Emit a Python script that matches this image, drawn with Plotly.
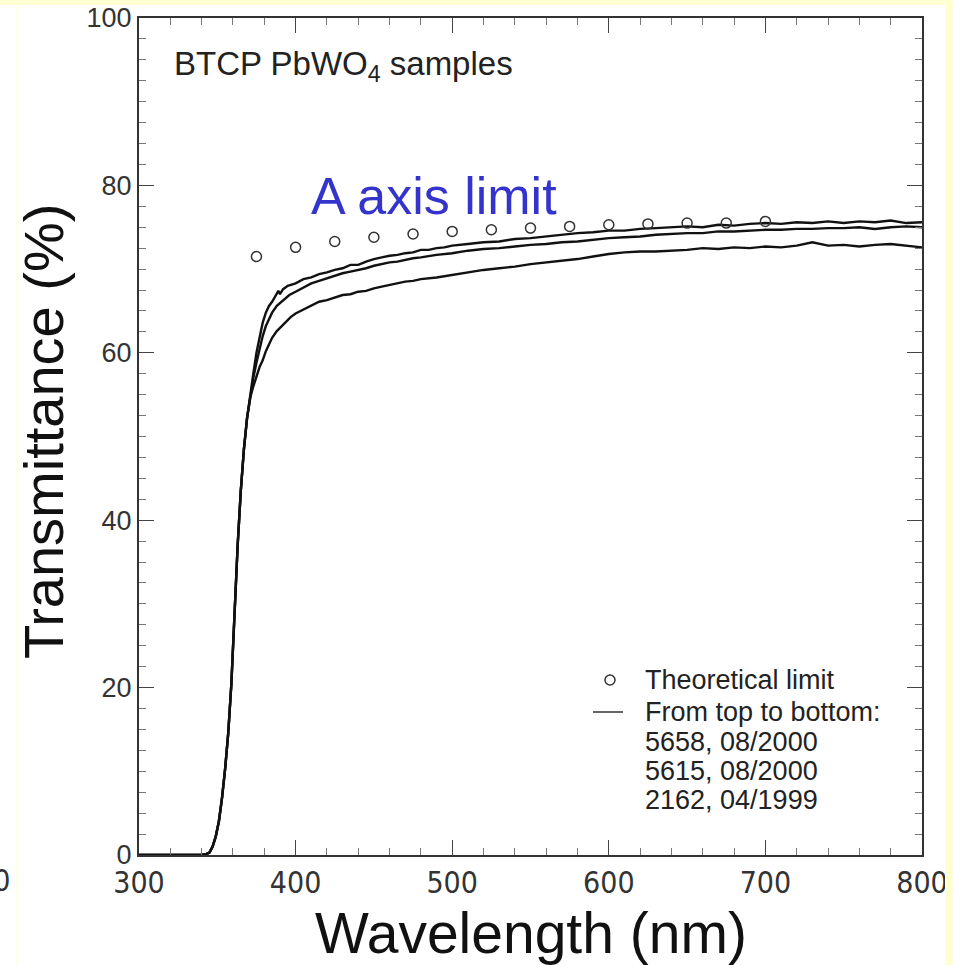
import plotly.graph_objects as go

# ---------------- data ----------------
rise_wl = [300, 320, 340, 343, 345, 347, 349, 351, 353, 355, 357, 359, 361, 363, 365, 367, 369, 371]
rise_t = [0, 0, 0, 0.1, 0.3, 1.0, 2.2, 4.0, 6.8, 10.3, 14.6, 20.5, 29.0, 37.0, 43.5, 48.5, 52.2, 54.6]

top_wl = [373, 375, 377, 379, 381, 383, 385, 387, 389, 390, 392, 395, 400, 405, 410, 415, 420, 425, 430,
          435, 440, 445, 450, 455, 460, 465, 470, 475, 480, 485, 490, 495, 500, 510, 520, 530, 540, 550,
          560, 570, 580, 590, 600, 610, 620, 630, 640, 650, 660, 670, 680, 690, 700, 710, 720, 730, 740,
          750, 760, 770, 780, 790, 800]
top_t = [57.5, 60.0, 62.0, 63.6, 64.8, 65.6, 66.1, 66.8, 67.4, 67.0, 67.6, 68.0, 68.3, 68.8, 69.0, 69.4,
         69.6, 69.9, 70.1, 70.5, 70.5, 70.9, 71.2, 71.4, 71.6, 71.7, 71.9, 72.0, 72.3, 72.3, 72.5, 72.6,
         72.8, 73.0, 73.2, 73.3, 73.6, 73.7, 73.9, 74.1, 74.3, 74.4, 74.6, 74.6, 74.8, 74.9, 75.0, 75.1,
         75.0, 75.3, 75.2, 75.4, 75.5, 75.4, 75.6, 75.5, 75.7, 75.5, 75.7, 75.6, 75.8, 75.5, 75.6]

mid_wl = [373, 375, 377, 379, 381, 383, 385, 388, 392, 396, 400, 405, 410, 415, 420, 425, 430, 435, 440,
          445, 450, 455, 460, 465, 470, 475, 480, 490, 500, 510, 520, 530, 540, 550, 560, 570, 580, 590,
          600, 610, 620, 630, 640, 650, 660, 670, 680, 690, 700, 710, 720, 730, 740, 750, 760, 770, 780,
          790, 800]
mid_t = [57.0, 58.8, 60.6, 62.0, 63.2, 64.1, 64.8, 65.6, 66.3, 66.9, 67.3, 67.8, 68.3, 68.6, 68.9, 69.2,
         69.5, 69.7, 69.9, 70.1, 70.4, 70.6, 70.8, 70.9, 71.1, 71.3, 71.4, 71.7, 71.9, 72.2, 72.4, 72.5,
         72.7, 72.9, 73.0, 73.2, 73.3, 73.5, 73.7, 73.8, 73.9, 74.1, 74.2, 74.3, 74.3, 74.5, 74.5, 74.6,
         74.7, 74.7, 74.8, 74.8, 74.9, 74.9, 75.0, 74.8, 75.0, 75.1, 75.0]

bot_wl = [373, 375, 377, 379, 381, 383, 385, 388, 391, 394, 397, 400, 405, 410, 415, 420, 425, 430, 435,
          440, 445, 450, 455, 460, 465, 470, 475, 480, 490, 500, 510, 520, 530, 540, 550, 560, 570, 580,
          590, 600, 610, 620, 630, 640, 650, 660, 670, 680, 690, 700, 710, 720, 730, 740, 750, 760, 770,
          780, 790, 800]
bot_t = [56.0, 57.2, 58.3, 59.1, 60.2, 61.0, 61.8, 62.6, 63.2, 63.8, 64.3, 64.7, 65.2, 65.7, 66.1, 66.3,
         66.6, 66.9, 67.0, 67.3, 67.4, 67.7, 67.9, 68.1, 68.3, 68.5, 68.6, 68.8, 69.0, 69.3, 69.6, 69.9,
         70.1, 70.3, 70.6, 70.8, 71.0, 71.2, 71.5, 71.8, 72.0, 72.1, 72.1, 72.2, 72.3, 72.5, 72.4, 72.6,
         72.5, 72.7, 72.6, 72.8, 73.2, 72.8, 72.9, 72.7, 72.9, 73.0, 72.8, 72.6]

theo_wl = [375, 400, 425, 450, 475, 500, 525, 550, 575, 600, 625, 650, 675, 700]
theo_t = [71.5, 72.6, 73.3, 73.8, 74.2, 74.5, 74.7, 74.9, 75.1, 75.3, 75.4, 75.5, 75.5, 75.7]

x_ticks = [300, 400, 500, 600, 700, 800]
y_ticks = [0, 20, 40, 60, 80, 100]
legend_lines = ["Theoretical limit", "From top to bottom:", "5658, 08/2000", "5615, 08/2000", "2162, 04/1999"]

# ---------------- figure ----------------
W, H = 953, 965
L, R, T, B = 139, 922, 18, 855
pw, ph = R - L, B - T


def px_x(p):
    return (p - L) / pw


def px_y(p):
    return (B - p) / ph


FONT = "Liberation Sans, Arial, Helvetica, sans-serif"
NARROW = "DejaVu Sans Condensed, Liberation Sans Narrow, Arial Narrow, sans-serif"
LINE_COL = "#111111"

fig = go.Figure()
for wl, t in [(top_wl, top_t), (mid_wl, mid_t), (bot_wl, bot_t)]:
    fig.add_trace(go.Scatter(x=rise_wl + wl, y=rise_t + t, mode="lines",
                             line=dict(color=LINE_COL, width=2.4), showlegend=False))
fig.add_trace(go.Scatter(x=theo_wl, y=theo_t, mode="markers",
                         marker=dict(symbol="circle-open", size=10, color="#333333",
                                     line=dict(width=1.5, color="#333333")),
                         showlegend=False))

axis_common = dict(showgrid=False, zeroline=False, showline=True, linecolor="#333333", linewidth=2,
                   mirror="ticks", ticks="inside", ticklen=15, tickwidth=1.2, tickcolor="#444444",
                   automargin=False, layer="above traces")

fig.update_xaxes(range=[300, 800], tickmode="array", tickvals=x_ticks, ticktext=[str(v) for v in x_ticks],
                 tickfont=dict(family=NARROW, size=30, color="#333333"),
                 minor=dict(tickmode="linear", dtick=20, tick0=300, ticks="inside", ticklen=7,
                            tickwidth=1, tickcolor="#777777"),
                 **axis_common)
fig.update_yaxes(range=[0, 100], tickmode="array", tickvals=y_ticks, ticktext=[str(v) for v in y_ticks],
                 tickfont=dict(family=FONT, size=27, color="#333333"),
                 minor=dict(tickmode="linear", dtick=2.5, tick0=0, ticks="inside", ticklen=7,
                            tickwidth=1, tickcolor="#777777"),
                 **axis_common)

ann = []
ann.append(dict(text="BTCP PbWO<sub>4</sub> samples", x=px_x(172), y=px_y(66), xref="paper", yref="paper",
                xanchor="left", yanchor="middle", showarrow=False,
                font=dict(family=FONT, size=33, color="#222222")))
ann.append(dict(text="A axis limit", x=px_x(434), y=px_y(196), xref="paper", yref="paper",
                xanchor="center", yanchor="middle", showarrow=False,
                font=dict(family=FONT, size=52, color="#3434CC")))
ann.append(dict(text="Wavelength (nm)", x=0.5, y=px_y(933), xref="paper", yref="paper",
                xanchor="center", yanchor="middle", showarrow=False,
                font=dict(family=FONT, size=57, color="#111111")))
ann.append(dict(text="Transmittance (%)", x=px_x(43), y=px_y(432), xref="paper", yref="paper",
                xanchor="center", yanchor="middle", showarrow=False, textangle=-90,
                font=dict(family=FONT, size=56, color="#111111")))
ann.append(dict(text="00", x=px_x(12), y=px_y(880), xref="paper", yref="paper",
                xanchor="right", yanchor="middle", showarrow=False,
                font=dict(family=NARROW, size=30, color="#333333")))
leg_y = [680, 712, 742, 771, 800]
for txt, yy in zip(legend_lines, leg_y):
    ann.append(dict(text=txt, x=px_x(643), y=px_y(yy), xref="paper", yref="paper",
                    xanchor="left", yanchor="middle", showarrow=False,
                    font=dict(family=FONT, size=27, color="#222222")))

shapes = [
    # legend symbols
    dict(type="circle", xref="paper", yref="paper", x0=px_x(605), x1=px_x(615), y0=px_y(685), y1=px_y(675),
         line=dict(color="#333333", width=1.5)),
    dict(type="line", xref="paper", yref="paper", x0=px_x(593), x1=px_x(623), y0=px_y(712), y1=px_y(712),
         line=dict(color="#333333", width=1.5)),
    # page border decoration
    dict(type="rect", xref="paper", yref="paper", x0=px_x(0), x1=px_x(W), y0=px_y(0), y1=px_y(5),
         fillcolor="#FFFFD2", line=dict(width=0), layer="above"),
    dict(type="rect", xref="paper", yref="paper", x0=px_x(945), x1=px_x(W), y0=px_y(0), y1=px_y(H),
         fillcolor="#FFFFD2", line=dict(width=0), layer="above"),
    dict(type="line", xref="paper", yref="paper", x0=px_x(17), x1=px_x(17), y0=px_y(5), y1=px_y(H),
         line=dict(color="#FFFFC8", width=1), layer="above"),
]

fig.update_layout(width=W, height=H, margin=dict(l=L, r=W - R, t=T, b=H - B, pad=0, autoexpand=False),
                  paper_bgcolor="white", plot_bgcolor="white",
                  font=dict(family=FONT), annotations=ann, shapes=shapes, showlegend=False)

fig.write_html("out.html")
